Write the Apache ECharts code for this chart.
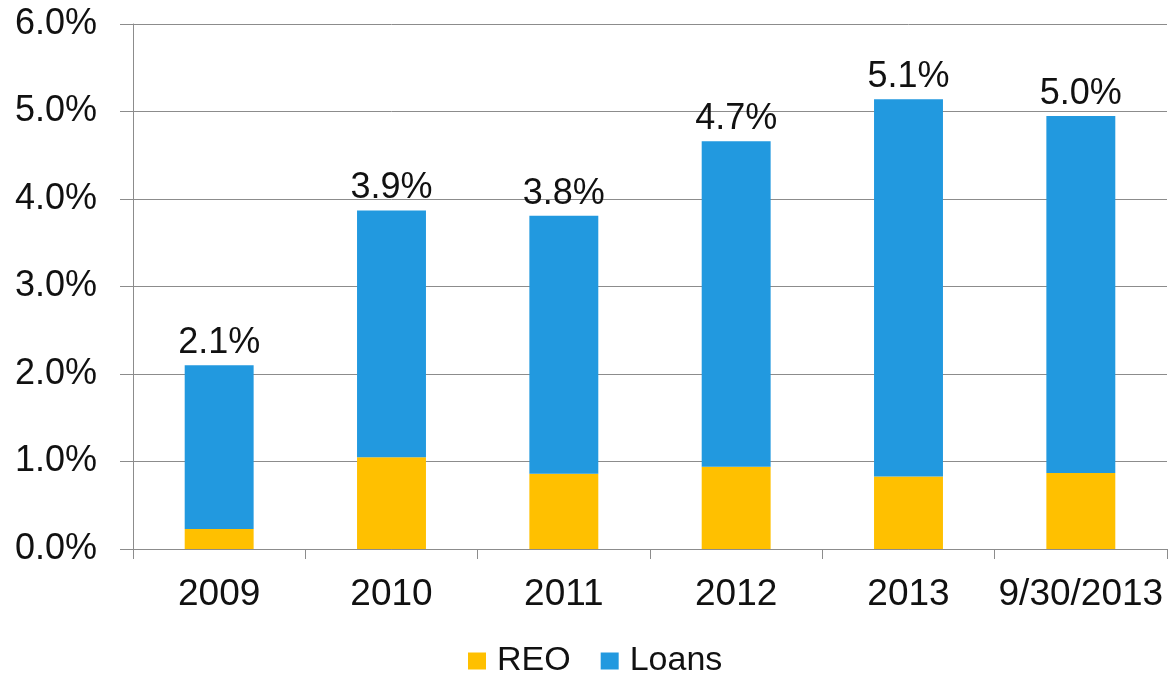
<!DOCTYPE html>
<html>
<head>
<meta charset="utf-8">
<script src="https://cdn.jsdelivr.net/npm/echarts@6/dist/echarts.min.js"></script>
<style>
  html, body { margin: 0; padding: 0; background: #ffffff; }
  #chart { width: 1171px; height: 675px; }
</style>
</head>
<body>
<div id="chart"></div>
<script>
// Period labels along the category axis
const categories = ['2009', '2010', '2011', '2012', '2013', '9/30/2013'];
// Share of assets, in percent
const reoValues = [0.23, 1.05, 0.86, 0.94, 0.83, 0.87];
const loanValues = [1.87, 2.82, 2.95, 3.72, 4.31, 4.08];
// Value-axis ticks
const yTicks = [0, 1, 2, 3, 4, 5, 6];

const totals = categories.map((_, i) => reoValues[i] + loanValues[i]);

const FONT = '"Liberation Sans", Arial, sans-serif';
const GRID_GRAY = '#8c8c8c';
const TEXT = '#111111';

const chart = echarts.init(document.getElementById('chart'), null, { renderer: 'canvas' });

chart.setOption({
  animation: false,
  backgroundColor: '#ffffff',
  textStyle: { fontFamily: FONT },
  grid: { left: 133, right: 4, top: 24, bottom: 126, containLabel: false },
  legend: {
    data: ['REO', 'Loans'],
    left: 463,
    top: 639,
    itemWidth: 18,
    itemHeight: 17,
    itemGap: 30,
    icon: 'rect',
    textStyle: { fontSize: 34, color: TEXT, fontFamily: FONT, padding: [0, 0, 0, 6] }
  },
  xAxis: {
    type: 'category',
    data: categories,
    axisLine: { show: true, lineStyle: { color: GRID_GRAY, width: 1 } },
    axisTick: { show: true, length: 10, interval: 0, alignWithLabel: false, lineStyle: { color: GRID_GRAY } },
    axisLabel: { fontSize: 37, color: TEXT, margin: 27, fontFamily: FONT, interval: 0 },
    splitLine: { show: false }
  },
  yAxis: {
    type: 'value',
    min: yTicks[0],
    max: yTicks[yTicks.length - 1],
    interval: 1,
    axisLine: { show: true, lineStyle: { color: GRID_GRAY, width: 1 } },
    axisTick: { show: true, length: 13, lineStyle: { color: GRID_GRAY } },
    axisLabel: {
      fontSize: 36,
      color: TEXT,
      margin: 36,
      fontFamily: FONT,
      formatter: v => v.toFixed(1) + '%'
    },
    splitLine: { show: true, lineStyle: { color: GRID_GRAY, width: 1 } }
  },
  series: [
    {
      name: 'REO',
      type: 'bar',
      stack: 'total',
      barWidth: '40%',
      itemStyle: { color: '#FFC000' },
      data: reoValues
    },
    {
      name: 'Loans',
      type: 'bar',
      stack: 'total',
      barWidth: '40%',
      itemStyle: { color: '#2299DF' },
      data: loanValues,
      label: {
        show: true,
        position: 'top',
        distance: 4,
        fontSize: 36,
        color: TEXT,
        fontFamily: FONT,
        formatter: p => totals[p.dataIndex].toFixed(1) + '%'
      }
    }
  ]
});
</script>
</body>
</html>
